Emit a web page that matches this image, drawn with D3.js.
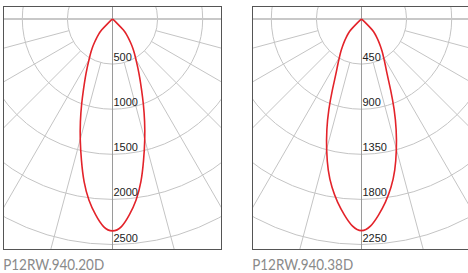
<!DOCTYPE html>
<html>
<head>
<meta charset="utf-8">
<script src="https://cdn.jsdelivr.net/npm/d3@7"></script>
<style>
  html, body { margin: 0; padding: 0; background: #fff; }
  svg { display: block; }
</style>
</head>
<body>
<svg id="chart" width="468" height="273"></svg>
<script>
// angles (deg from nadir) and intensities (cd)
var angles = [0, 2.5, 5, 7.5, 10, 12.5, 15, 17.5, 20, 22.5, 25, 27.5, 30, 32.5, 35, 37.5, 40, 42.5, 45, 47.5, 50];
var cd20 = [2365, 2320, 2180, 2030, 1840, 1600, 1390, 1190, 1005, 840, 715, 610, 520, 455, 395, 330, 275, 225, 185, 70, 0];
var cd38 = [2128, 2080, 1965, 1845, 1710, 1550, 1353, 1160, 960, 760, 600, 515, 440, 385, 330, 280, 235, 195, 160, 60, 0];
var ticks20 = [500, 1000, 1500, 2000, 2500];
var ticks38 = [450, 900, 1350, 1800, 2250];
var names = ["P12RW.940.20D", "P12RW.940.38D"];

var panels = [
  { x0: 3.5, values: cd20, ticks: ticks20, name: names[0] },
  { x0: 252.5, values: cd38, ticks: ticks38, name: names[1] }
];

var boxW = 218, boxTop = 6.5, boxBottom = 249.5;
var cy = 19;
var ringStep = 45.1;
var spokeAngles = [15, 30, 45, 60, 75];

var svg = d3.select("#chart");

panels.forEach(function(p, k) {
  var cx = p.x0 + 109;
  var rMax = p.ticks[p.ticks.length - 1];
  var r = d3.scaleLinear().domain([0, rMax]).range([0, ringStep * p.ticks.length]);

  svg.append("defs").append("clipPath")
    .attr("id", "clip" + k)
    .append("rect")
    .attr("x", p.x0)
    .attr("y", boxTop)
    .attr("width", boxW)
    .attr("height", boxBottom - boxTop);

  var g = svg.append("g").attr("clip-path", "url(#clip" + k + ")");
  var c = g.append("g").attr("transform", "translate(" + cx + "," + cy + ")");

  // rings (full circles, clipped by the frame)
  c.selectAll("circle.ring")
    .data(p.ticks.concat([rMax + rMax / p.ticks.length]))
    .enter().append("circle")
    .attr("class", "ring")
    .attr("r", function(d) { return r(d); })
    .attr("fill", "none")
    .attr("stroke", "#c4c4c4")
    .attr("stroke-width", 1);

  // spokes every 15 deg, starting at the first ring
  var sp = [];
  spokeAngles.forEach(function(a) { sp.push(a); sp.push(-a); });
  c.selectAll("line.spoke")
    .data(sp)
    .enter().append("line")
    .attr("class", "spoke")
    .attr("x1", function(d) { return r(p.ticks[0]) * Math.sin(d * Math.PI / 180); })
    .attr("y1", function(d) { return r(p.ticks[0]) * Math.cos(d * Math.PI / 180); })
    .attr("x2", function(d) { return 400 * Math.sin(d * Math.PI / 180); })
    .attr("y2", function(d) { return 400 * Math.cos(d * Math.PI / 180); })
    .attr("stroke", "#c4c4c4")
    .attr("stroke-width", 1);

  // horizontal 90-90 line
  c.append("line")
    .attr("x1", -200).attr("x2", 200)
    .attr("y1", 0).attr("y2", 0)
    .attr("stroke", "#c8c8c8")
    .attr("stroke-width", 2);

  // vertical 0-180 line
  c.append("line")
    .attr("x1", 0).attr("x2", 0)
    .attr("y1", -50).attr("y2", 300)
    .attr("stroke", "#9a9a9a")
    .attr("stroke-width", 1);

  // intensity curve, mirrored around nadir
  var pts = [];
  for (var i = angles.length - 1; i > 0; i--) pts.push([-angles[i], p.values[i]]);
  for (var i = 0; i < angles.length; i++) pts.push([angles[i], p.values[i]]);

  var line = d3.lineRadial()
    .angle(function(d) { return Math.PI - d[0] * Math.PI / 180; })
    .radius(function(d) { return r(d[1]); })
    .curve(d3.curveBasis);

  c.append("path")
    .datum(pts)
    .attr("d", line)
    .attr("fill", "none")
    .attr("stroke", "#e3232a")
    .attr("stroke-width", 1.6);

  // ring labels
  c.selectAll("text.tick")
    .data(p.ticks)
    .enter().append("text")
    .attr("class", "tick")
    .attr("x", 1)
    .attr("y", function(d) { return r(d) - 3; })
    .attr("font-family", "'Liberation Sans', Arial, sans-serif")
    .attr("font-size", 11)
    .attr("fill", "#222")
    .text(function(d) { return d; });

  // frame
  svg.append("rect")
    .attr("x", p.x0)
    .attr("y", boxTop)
    .attr("width", boxW)
    .attr("height", boxBottom - boxTop)
    .attr("fill", "none")
    .attr("stroke", "#555")
    .attr("stroke-width", 1);

  // caption
  svg.append("text")
    .attr("x", p.x0 - 0.3)
    .attr("y", 269.5)
    .attr("font-family", "Lato, 'Noto Sans', sans-serif")
    .attr("font-size", 15)
    .attr("fill", "#8a8a8a")
    .attr("textLength", 101)
    .attr("lengthAdjust", "spacingAndGlyphs")
    .text(p.name);
});
</script>
</body>
</html>
